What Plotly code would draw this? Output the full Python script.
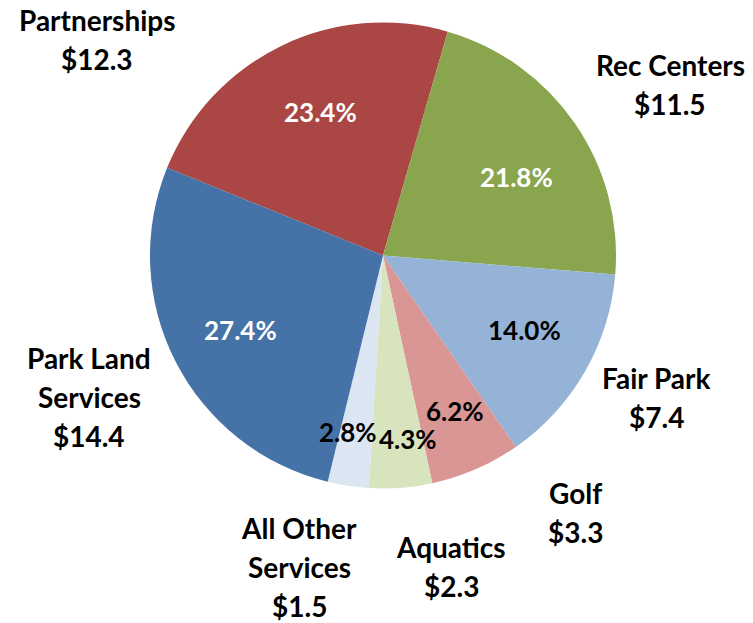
import plotly.graph_objects as go

# ---- data ----
categories = ["Partnerships", "Rec Centers", "Fair Park", "Golf", "Aquatics",
              "All Other Services", "Park Land Services"]
values = [12.3, 11.5, 7.4, 3.3, 2.3, 1.5, 14.4]          # $ millions
percent_labels = ["23.4%", "21.8%", "14.0%", "6.2%", "4.3%", "2.8%", "27.4%"]
outer_labels = ["Partnerships\n$12.3", "Rec Centers\n$11.5", "Fair Park\n$7.4",
                "Golf\n$3.3", "Aquatics\n$2.3", "All Other\nServices\n$1.5",
                "Park Land\nServices\n$14.4"]
colors = ["#AA4643", "#89A54E", "#95B3D7", "#D99694", "#D7E4BD", "#DCE6F2", "#4572A7"]

W, H = 753, 623
FONT = "Lato"
FS_PCT = 26
FS_LBL = 28
LINE_PITCH = 39

# label positions (pixel centres) – layout only
pct_pos = [(320, 112), (516, 177), (524, 330), (455, 411), (408, 439), (348, 432), (240, 330)]
pct_colors = ["white", "white", "black", "black", "black", "black", "white"]
outer_pos = [(97, 20), (670, 65), (656, 378), (575, 493), (451, 547), (299, 528), (89, 358)]

fig = go.Figure(go.Pie(
    labels=categories,
    values=values,
    sort=False,
    direction="clockwise",
    rotation=-67.9,
    marker=dict(colors=colors, line=dict(width=0)),
    textinfo="none",
    hoverinfo="label+value",
    showlegend=False,
    domain=dict(x=[150 / W, 616 / W], y=[1 - 489 / H, 1 - 22 / H]),
))

def px(x, y):
    return x / W, 1 - y / H

annotations = []
for txt, (x, y), c in zip(percent_labels, pct_pos, pct_colors):
    ax, ay = px(x, y)
    annotations.append(dict(x=ax, y=ay, xref="paper", yref="paper", text=txt,
                            showarrow=False, xanchor="center", yanchor="middle",
                            font=dict(family=FONT, size=FS_PCT, color=c, weight="bold")))
for txt, (x, y) in zip(outer_labels, outer_pos):
    for i, line in enumerate(txt.split("\n")):
        ax, ay = px(x, y + i * LINE_PITCH)
        annotations.append(dict(x=ax, y=ay, xref="paper", yref="paper", text=line,
                                showarrow=False, xanchor="center", yanchor="middle",
                                font=dict(family=FONT, size=FS_LBL, color="black", weight="bold")))

fig.update_layout(
    width=W, height=H,
    margin=dict(l=0, r=0, t=0, b=0),
    paper_bgcolor="white",
    plot_bgcolor="white",
    annotations=annotations,
)

fig.write_html("out.html", config={"displayModeBar": False},
               post_script="document.body.style.margin='0';document.body.style.overflow='hidden';")
